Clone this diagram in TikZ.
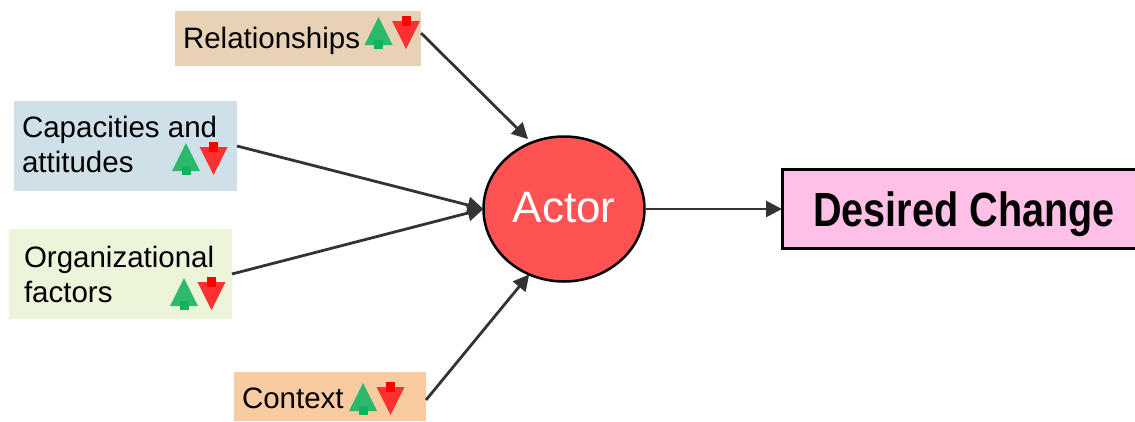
\documentclass[tikz,border=0pt]{standalone}
\usepackage{fontspec}
\setmainfont{Liberation Sans}
\newfontfamily\narrowbold[FakeStretch=0.825]{Liberation Sans Bold}
\usetikzlibrary{arrows.meta}
\usetikzlibrary{shapes.geometric}
\definecolor{relfill}{HTML}{E8D2B6}
\definecolor{capfill}{HTML}{D0E0E9}
\definecolor{orgfill}{HTML}{ECF5DA}
\definecolor{ctxfill}{HTML}{F8CBA0}
\definecolor{actorfill}{HTML}{FF5252}
\definecolor{changefill}{HTML}{FFC0E8}
\definecolor{upgreen}{HTML}{2DB96B}
\definecolor{stemgreen}{HTML}{12B35F}
\definecolor{downred}{HTML}{FF3030}
\definecolor{linegray}{HTML}{333333}
\tikzset{
  factor/.style={inner sep=0pt,outer sep=0pt},
  factortext/.style={inner sep=0pt,outer sep=0pt,align=left,anchor=base west,
    font=\fontsize{29.5}{35}\selectfont},
  flow/.style={-{Triangle[length=16pt,width=16pt]},draw=linegray,fill=linegray,line width=2.8pt},
  arrowpair/.pic={
    \fill[upgreen] (0,0) -- (14,28) -- (-14,28) -- cycle;
    \fill[stemgreen] (-4.5,23) rectangle (4.5,32);
    \fill[downred] (13.5,4) -- (41.5,4) -- (27.5,32) -- cycle;
    \fill[red] (23,-1) rectangle (32,9);
  }
}

\begin{document}
\begin{tikzpicture}[x=1pt,y=-1pt]
    \useasboundingbox (0,0) rectangle (1135,421);
    \node[factor,fill=relfill,minimum width=246pt,minimum height=55pt] (relbox) at (298,38.5) {};
    \node[factor,fill=capfill,minimum width=223pt,minimum height=90pt] (capbox) at (125.5,146) {};
    \node[factor,fill=orgfill,minimum width=223pt,minimum height=90pt] (orgbox) at (120.5,274) {};
    \node[factor,fill=ctxfill,minimum width=192pt,minimum height=49pt] (ctxbox) at (330,396.5) {};

    \node[factortext] (reltext) at (183,48) {Relationships};
    \node[factortext] (captext) at (22,172) {Capacities and\\attitudes};
    \node[factortext] (orgtext) at (24,302) {Organizational\\factors};
    \node[factortext] (ctxtext) at (242,408) {Context};

    \path pic at (378.5,17) {arrowpair};
    \path pic at (186,143) {arrowpair};
    \path pic at (184,278) {arrowpair};
    \path pic at (363,383) {arrowpair};

    \node[ellipse,draw=black,line width=2.5pt,fill=actorfill,inner sep=0pt,outer sep=0pt,
      minimum width=161pt,minimum height=145pt,text=white,
      font=\fontsize{44}{50}\selectfont] (actor) at (564,209) {\raisebox{3pt}{Actor}};
    \node[draw=black,line width=3pt,fill=changefill,inner sep=0pt,outer sep=0pt,
      minimum width=360pt,minimum height=79pt] (change) at (962,209) {};
    \node[inner sep=0pt,anchor=base west,font=\narrowbold\fontsize{48}{56}\selectfont]
      (changetext) at (813,226) {Desired Change};

    \draw ([yshift=5.5pt]relbox.east) edge[flow,shorten >=5pt] (actor.116);
    \draw (capbox.east) edge[flow] (actor.west);
    \draw (orgbox.east) edge[flow] (actor.west);
    \draw ([yshift=-3.5pt]ctxbox.east) edge[flow] (actor.242);
    \draw (actor.east) edge[flow] (change.west);
  \end{tikzpicture}
\end{document}
